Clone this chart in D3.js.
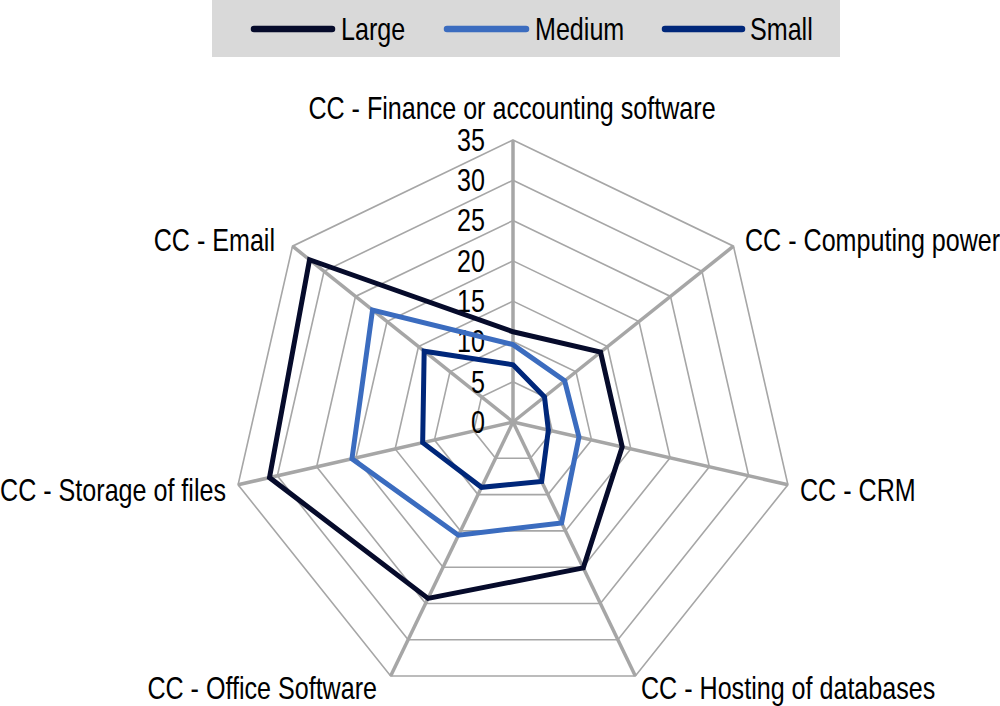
<!DOCTYPE html>
<html><head><meta charset="utf-8">
<script src="https://cdn.jsdelivr.net/npm/d3@7"></script>
<style>body{margin:0;background:#fff;}svg{display:block;}</style>
</head><body>
<svg id="c" width="1000" height="706"></svg>
<script>
const categories = ["CC - Finance or accounting software","CC - Computing power","CC - CRM","CC - Hosting of databases","CC - Office Software","CC - Storage of files","CC - Email"];
const large  = [11.2, 13.9, 13.9, 20.1, 24.3, 31.0, 32.3];
const medium = [9.6, 8.2, 8.4, 13.9, 15.6, 20.5, 22.3];
const small  = [7.1, 5.0, 4.5, 8.2, 9.0, 11.5, 14.1];
const seriesNames = ["Large","Medium","Small"];
const ticks = [0,5,10,15,20,25,30,35];

const colors = {Large:"#060b2b", Medium:"#3b6cbf", Small:"#00277a"};
const font = "'Liberation Sans Narrow','Arial Narrow','Liberation Sans',Arial,sans-serif";
const FS = 31, SX = 0.81;
const svg = d3.select("#c");
const cx = 513, cy = 422, R = 282;
const r = d3.scaleLinear().domain([0,35]).range([0,R]);
const n = categories.length;
const ang = d3.scaleLinear().domain([0,n]).range([0,2*Math.PI]);
const pt = (i,v)=>[cx + r(v)*Math.sin(ang(i)), cy - r(v)*Math.cos(ang(i))];
const gray = "#a6a6a6";

function label(x,y,anchor,txt,dy){
  svg.append("text").attr("transform",`translate(${x},${y}) scale(${SX},1)`)
    .attr("text-anchor",anchor).attr("dy",dy||0)
    .attr("font-family",font).attr("font-size",FS).attr("fill","#000").text(txt);
}

// rings
ticks.slice(1).forEach(t=>{
  svg.append("path")
    .attr("d", d3.line()(d3.range(n).map(i=>pt(i,t))) + "Z")
    .attr("fill","none").attr("stroke",gray).attr("stroke-width",1.6);
});
// spokes
d3.range(n).forEach(i=>{
  const [x,y]=pt(i,35);
  svg.append("line").attr("x1",cx).attr("y1",cy).attr("x2",x).attr("y2",y)
    .attr("stroke",gray).attr("stroke-width",3.5);
});
// tick labels
ticks.forEach(t=>label(485, cy - r(t), "end", t, "0.35em"));

// series
const data = {Large:large, Medium:medium, Small:small};
seriesNames.forEach(s=>{
  svg.append("path")
    .attr("d", d3.line()(data[s].map((v,i)=>pt(i,v))) + "Z")
    .attr("fill","none").attr("stroke",colors[s]).attr("stroke-width",5).attr("stroke-linejoin","miter");
});

// category labels
const labelPos = [
  {x:512,y:119,a:"middle"},
  {x:745,y:251,a:"start"},
  {x:800,y:501,a:"start"},
  {x:641,y:699,a:"start"},
  {x:377,y:699,a:"end"},
  {x:226,y:501,a:"end"},
  {x:275,y:251,a:"end"}
];
categories.forEach((c,i)=>label(labelPos[i].x,labelPos[i].y,labelPos[i].a,c));

// legend
svg.append("rect").attr("x",212).attr("y",0).attr("width",628).attr("height",57).attr("fill","#d9d9d9");
const legLine = [[251,335],[444,529],[662,745]];
const legText = [341,535,750];
seriesNames.forEach((s,i)=>{
  svg.append("line").attr("x1",legLine[i][0]+3).attr("x2",legLine[i][1]-3).attr("y1",29).attr("y2",29)
    .attr("stroke",colors[s]).attr("stroke-width",6.5).attr("stroke-linecap","round");
  label(legText[i], 29, "start", s, "0.35em");
});
</script>
</body></html>
